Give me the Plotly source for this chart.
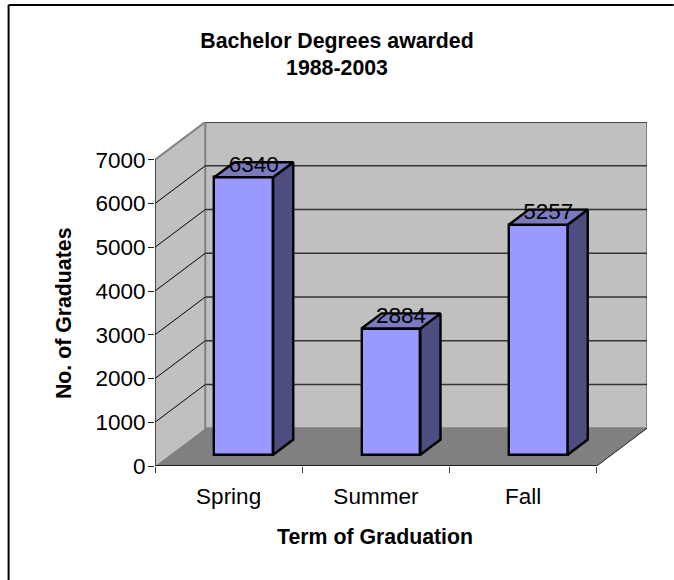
import plotly.graph_objects as go

categories = ["Spring", "Summer", "Fall"]
graduates = [6340, 2884, 5257]
y_ticks = [0, 1000, 2000, 3000, 4000, 5000, 6000, 7000]
x_boundaries = [0, 1, 2, 3]

W, H = 674, 580
# plot-area placement in pixels
L, R, T, B = 155.0, 647.3, 122.3, 465.7
Y_MAX = 7000
PX_PER_UNIT_Y = 305.7 / Y_MAX
PX_PER_CAT = (597.0 - 155.0) / 3
DX = 50.3 / PX_PER_CAT          # wall depth in x units
DY = (B - T - 305.7) / PX_PER_UNIT_Y  # wall depth in y units
BAR_W = 0.4
NEAR, FAR = 0.3, 0.7            # bar depth position within the floor depth

FONT = "Liberation Sans"
WALL = "#c0c0c0"
FLOOR = "#808080"
EDGE = "#808080"
FRONT = "#9999ff"
SIDE = "#4d4d80"
TOP = "#7a7abf"
TICK_SIZE = 22.5
BOLD_SIZE = 21.3
BAR_LINE = 2.4


def px(x):
    return (x - L) / (R - L)


def py(y):
    return (B - y) / (B - T)


def poly(pts, **kw):
    path = "M " + " L ".join(f"{a},{b}" for a, b in pts) + " Z"
    return dict(type="path", path=path, xref="x", yref="y", layer="below", **kw)


def seg(x0, y0, x1, y1, color, width):
    return dict(type="line", x0=x0, y0=y0, x1=x1, y1=y1, xref="x", yref="y",
                layer="below", line=dict(color=color, width=width))


shapes = []
# Side wall, back wall, floor
shapes.append(poly([(0, 0), (DX, DY), (DX, Y_MAX + DY), (0, Y_MAX)],
                   fillcolor=WALL, line=dict(width=0)))
shapes.append(poly([(DX, DY), (3 + DX, DY), (3 + DX, Y_MAX + DY), (DX, Y_MAX + DY)],
                   fillcolor=WALL, line=dict(color=EDGE, width=2)))
shapes.append(poly([(0, 0), (3, 0), (3 + DX, DY), (DX, DY)],
                   fillcolor=FLOOR, line=dict(width=0)))
# Gridlines
for v in y_ticks[1:]:
    shapes.append(seg(0, v, DX, v + DY, "#000000", 1))
    shapes.append(seg(DX, v + DY, 3 + DX, v + DY, "#333333", 1.3))
# Wall edges
shapes.append(seg(0, Y_MAX, DX, Y_MAX + DY, EDGE, 2))
shapes.append(seg(3, 0, 3 + DX, DY, "#202020", 1))
# Front axis lines
shapes.append(seg(0, 0, 0, Y_MAX, "#202020", 1.5))
shapes.append(seg(0, 0, 3, 0, "#000000", 1.5))
# Outer frame: left and top only
frame = dict(xref="paper", yref="paper", line=dict(color="#000000", width=2))
shapes.append(dict(type="line", x0=px(8.5), x1=px(8.5), y0=py(5.5), y1=py(H), **frame))
shapes.append(dict(type="line", x0=px(8.5), x1=px(W), y0=py(5.5), y1=py(5.5), **frame))

fig = go.Figure()

centers = [i + 0.5 for i in range(len(categories))]
fig.add_trace(go.Bar(
    x=[c + NEAR * DX for c in centers],
    y=graduates,
    base=NEAR * DY,
    width=BAR_W,
    marker=dict(color=FRONT, line=dict(color="#000000", width=BAR_LINE)),
    hoverinfo="skip",
))

depth_x = (FAR - NEAR) * DX
depth_y = (FAR - NEAR) * DY
for c, v in zip(centers, graduates):
    x0 = c + NEAR * DX - BAR_W / 2
    x1 = x0 + BAR_W
    y0 = NEAR * DY
    y1 = y0 + v
    fig.add_trace(go.Scatter(
        x=[x1, x1 + depth_x, x1 + depth_x, x1, x1],
        y=[y0, y0 + depth_y, y1 + depth_y, y1, y0],
        mode="lines", fill="toself", fillcolor=SIDE,
        line=dict(color="#000000", width=BAR_LINE), hoverinfo="skip"))
    fig.add_trace(go.Scatter(
        x=[x0, x1, x1 + depth_x, x0 + depth_x, x0],
        y=[y1, y1, y1 + depth_y, y1 + depth_y, y1],
        mode="lines", fill="toself", fillcolor=TOP,
        line=dict(color="#000000", width=BAR_LINE), hoverinfo="skip"))

fig.add_trace(go.Scatter(
    x=[c + (NEAR + FAR) / 2 * DX for c in centers],
    y=[v + (NEAR + 0.75 * (FAR - NEAR)) * DY for v in graduates],
    mode="text",
    text=[str(v) for v in graduates],
    textposition="middle center",
    textfont=dict(family=FONT, size=TICK_SIZE, color="#000000"),
    hoverinfo="skip",
    cliponaxis=False,
))

fig.update_layout(
    width=W, height=H,
    margin=dict(l=L, r=W - R, t=T, b=H - B, pad=0),
    paper_bgcolor="#ffffff",
    plot_bgcolor="rgba(0,0,0,0)",
    showlegend=False,
    bargap=0,
    shapes=shapes,
    font=dict(family=FONT, color="#000000", size=TICK_SIZE),
    title=dict(
        text="<b>Bachelor Degrees awarded<br>1988-2003</b>",
        x=337 / W, xanchor="center", xref="container",
        y=1 - 47.5 / H, yanchor="middle", yref="container",
        font=dict(family=FONT, size=BOLD_SIZE, color="#000000"),
    ),
    xaxis=dict(
        range=[0, 3 + DX], showgrid=False, zeroline=False, showline=False,
        tickmode="array", tickvals=centers, ticktext=categories,
        ticks="", ticklabelstandoff=14,
        tickfont=dict(family=FONT, size=TICK_SIZE),
        minor=dict(tickmode="array", tickvals=x_boundaries, ticks="outside",
                   ticklen=6, tickwidth=1, tickcolor="#404040", showgrid=False),
    ),
    yaxis=dict(
        range=[0, Y_MAX + DY], showgrid=False, zeroline=False, showline=False,
        tickmode="array", tickvals=y_ticks, ticks="outside", ticklen=6,
        tickwidth=1, tickcolor="#202020", ticklabelstandoff=-2,
        tickfont=dict(family=FONT, size=TICK_SIZE),
    ),
    annotations=[
        dict(text="<b>Term of Graduation</b>", xref="paper", yref="paper",
             x=px(375), y=py(537), xanchor="center", yanchor="middle",
             showarrow=False, font=dict(family=FONT, size=BOLD_SIZE)),
        dict(text="<b>No. of Graduates</b>", xref="paper", yref="paper",
             x=px(64), y=py(313), xanchor="center", yanchor="middle",
             textangle=-90, showarrow=False, font=dict(family=FONT, size=BOLD_SIZE)),
    ],
)

fig.write_html("out.html", config={"displayModeBar": False},
               post_script="document.body.style.margin='0';document.body.style.overflow='hidden';")
